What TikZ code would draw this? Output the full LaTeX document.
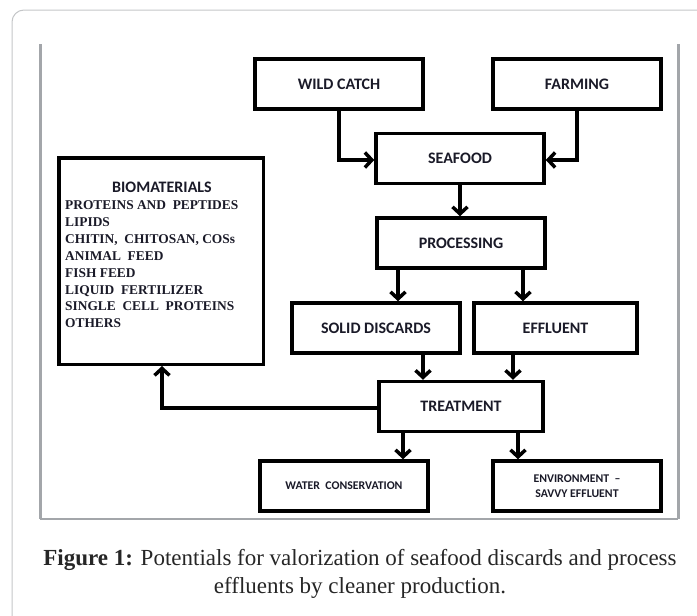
\documentclass[tikz,border=0pt]{standalone}
\usepackage{fontspec}
\setmainfont{Liberation Serif}
\newfontfamily\carlito{Carlito}
\usetikzlibrary{arrows.meta,calc}
\definecolor{framegray}{HTML}{A3A6AA}
\definecolor{outergray}{HTML}{C4C6C8}
\definecolor{txt}{HTML}{1A1A28}
\begin{document}
\begin{tikzpicture}[x=1pt,y=-1pt,
  box/.style={draw=black,line width=3.5pt,minimum width=168pt,minimum height=50pt,inner sep=0pt,
    text=txt,font=\carlito\bfseries\fontsize{16}{17}\selectfont,align=center},
  smallbox/.style={box,font=\carlito\bfseries\fontsize{11.8}{15.5}\selectfont},
  arr/.style={line width=3.5pt,-{Straight Barb[length=7pt,width=15pt]}}]
\useasboundingbox (0,0) rectangle (697,616);
\begin{scope}
\clip (0,0) rectangle (697,616);
\draw[outergray,line width=1pt,rounded corners=12pt] (12,10) rectangle (760,680);
\end{scope}
\draw[framegray,line width=3pt] (40,44) -- (40,519);
\draw[framegray,line width=3pt] (678,44) -- (678,519);
\draw[framegray,line width=1.2pt] (40,519) -- (678,519);

\node[box] (wild) at (339,84) {WILD CATCH};
\node[box] (farm) at (577,84) {FARMING};
\node[box] (sea) at (460,158.5) {SEAFOOD};
\node[box] (proc) at (461,243) {PROCESSING};
\node[box] (solid) at (376,328) {SOLID DISCARDS};
\node[box,minimum width=163pt] (eff) at (555.5,328) {EFFLUENT};
\node[box,minimum width=164pt] (treat) at (461,406.5) {TREATMENT};
\node[smallbox] (water) at (344,486) {WATER\ \ CONSERVATION};
\node[smallbox] (env) at (577,486) {ENVIRONMENT \ –\\SAVVY EFFLUENT};
\node[draw=black,line width=3.5pt,minimum width=204.5pt,minimum height=206.5pt,inner sep=0pt] (bio) at (161,261) {};
\node[text=txt,font=\carlito\bfseries\fontsize{16}{18}\selectfont,inner sep=0pt,anchor=base] (biot) at (162,192) {BIOMATERIALS};
\node[text=txt,font=\bfseries\fontsize{13.4}{16.9}\selectfont,inner sep=0pt,anchor=north west,align=left] (biol) at (65,200.5)
 {PROTEINS\ AND\ \ PEPTIDES\\LIPIDS\\CHITIN,\ \ CHITOSAN,\ COS\textsc{s}\\ANIMAL\ \ FEED\\FISH FEED\\LIQUID\ \ FERTILIZER\\SINGLE\ \ CELL\ \ PROTEINS\\OTHERS};

\coordinate (wc) at (339,160);
\coordinate (fc) at (577,160);
\coordinate (p1) at ($(proc.south)+(-63,0)$);
\coordinate (p2) at ($(proc.south)+(62,0)$);
\coordinate (s1) at ($(solid.south)+(47,0)$);
\coordinate (e1) at ($(eff.south)+(-42.5,0)$);
\coordinate (t1) at ($(treat.south)+(-58,0)$);
\coordinate (t2) at ($(treat.south)+(57,0)$);
\coordinate (bc) at (162,408);
\draw[arr] (wild.south) -- (wc) -- (sea.west |- wc);
\draw[arr] (farm.south) -- (fc) -- (sea.east |- fc);
\draw[arr] (sea.south) -- (sea.south |- proc.north);
\draw[arr] (p1) -- (p1 |- solid.north);
\draw[arr] (p2) -- (p2 |- eff.north);
\draw[arr] (s1) -- (s1 |- treat.north);
\draw[arr] (e1) -- (e1 |- treat.north);
\draw[arr] (t1) -- (t1 |- water.north);
\draw[arr] (t2) -- (t2 |- env.north);
\draw[arr] (treat.west |- bc) -- (bc) -- (bc |- bio.south);

\node[inner sep=0pt,anchor=north,align=center,font=\fontsize{23}{28}\selectfont,text=black!85] (cap) at (360,549)
 {\textbf{Figure 1:} Potentials for valorization of seafood discards and process\\effluents by cleaner production.};
\end{tikzpicture}
\end{document}
